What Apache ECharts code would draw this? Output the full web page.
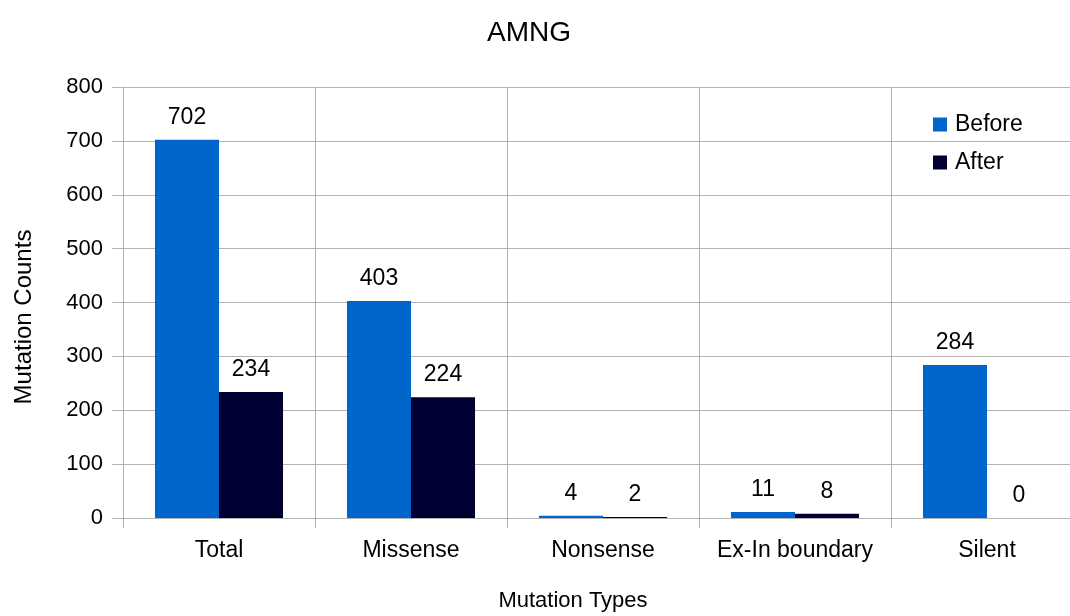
<!DOCTYPE html>
<html>
<head>
<meta charset="utf-8">
<script src="https://cdn.jsdelivr.net/npm/echarts@6/dist/echarts.min.js"></script>
<style>
  html, body { margin: 0; padding: 0; background: #fff; overflow: hidden; }
  /* canvas is a bit wider than the view so the last column runs past the right edge */
  #chart { width: 1090px; height: 616px; }
</style>
</head>
<body>
<div id="chart"></div>
<script>
// Mutation counts per type, before and after
const categories = ['Total', 'Missense', 'Nonsense', 'Ex-In boundary', 'Silent'];
const before = [702, 403, 4, 11, 284];
const after = [234, 224, 2, 8, 0];
const yTicks = [0, 100, 200, 300, 400, 500, 600, 700, 800];

const FONT = '"Liberation Sans", Arial, sans-serif';
const GRID = '#b3b3b3';

const chart = echarts.init(document.getElementById('chart'), null, { renderer: 'canvas' });

const labelStyle = {
  show: true,
  position: 'top',
  distance: 11,
  color: '#000',
  fontFamily: FONT,
  fontSize: 23
};

chart.setOption({
  animation: false,
  backgroundColor: '#fff',
  title: {
    text: 'AMNG',
    left: 524,
    top: 14,
    textAlign: 'center',
    textStyle: { fontFamily: FONT, fontSize: 28, fontWeight: 'normal', color: '#000' }
  },
  legend: {
    orient: 'vertical',
    left: 928,
    top: 108,
    itemWidth: 14,
    itemHeight: 14,
    itemGap: 15,
    icon: 'rect',
    textStyle: { fontFamily: FONT, fontSize: 23, color: '#000', padding: [0, 0, 0, 3] },
    data: ['Before', 'After']
  },
  grid: { left: 123, right: 7, top: 87, bottom: 98, containLabel: false },
  xAxis: {
    type: 'category',
    data: categories,
    axisLine: { show: true, lineStyle: { color: GRID, width: 1 } },
    axisTick: { show: true, interval: 0, length: 10, lineStyle: { color: GRID } },
    splitLine: { show: true, interval: 0, lineStyle: { color: GRID, width: 1 } },
    axisLabel: { interval: 0, margin: 21, fontFamily: FONT, fontSize: 23, color: '#000' }
  },
  yAxis: {
    type: 'value',
    min: yTicks[0],
    max: yTicks[yTicks.length - 1],
    interval: yTicks[1] - yTicks[0],
    axisLine: { show: true, lineStyle: { color: GRID, width: 1 } },
    axisTick: { show: true, length: 11, lineStyle: { color: GRID } },
    splitLine: { show: true, lineStyle: { color: GRID, width: 1 } },
    axisLabel: { margin: 20, fontFamily: FONT, fontSize: 22, color: '#000' }
  },
  graphic: [
    {
      type: 'text',
      x: 24,
      y: 317,
      rotation: Math.PI / 2,
      style: {
        text: 'Mutation Counts',
        font: '24px ' + FONT,
        fill: '#000',
        align: 'center',
        verticalAlign: 'middle'
      }
    },
    {
      type: 'text',
      x: 573,
      y: 601,
      style: {
        text: 'Mutation Types',
        font: '22px ' + FONT,
        fill: '#000',
        align: 'center',
        verticalAlign: 'middle'
      }
    }
  ],
  series: [
    {
      name: 'Before',
      type: 'bar',
      data: before,
      barGap: '0%',
      barCategoryGap: '33.3%',
      itemStyle: { color: '#0066cc' },
      label: labelStyle
    },
    {
      name: 'After',
      type: 'bar',
      data: after,
      itemStyle: { color: '#000033' },
      label: labelStyle
    }
  ]
});
</script>
</body>
</html>
